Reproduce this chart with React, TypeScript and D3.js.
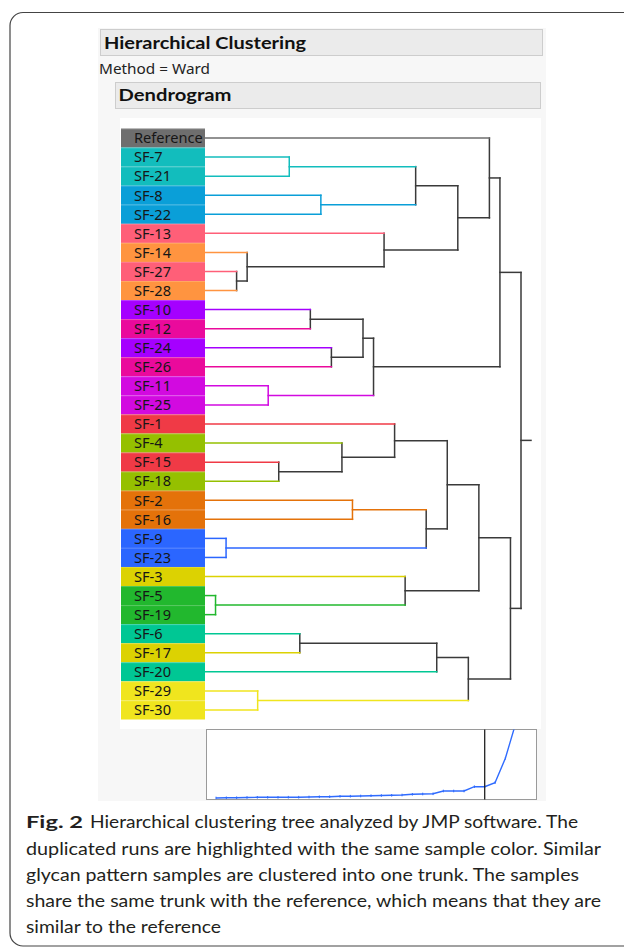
import React from 'react';
import * as d3 from 'd3';

// ---------- data ----------
const leafNames = [
  'Reference', 'SF-7', 'SF-21', 'SF-8', 'SF-22', 'SF-13', 'SF-14', 'SF-27', 'SF-28',
  'SF-10', 'SF-12', 'SF-24', 'SF-26', 'SF-11', 'SF-25', 'SF-1', 'SF-4', 'SF-15', 'SF-18',
  'SF-2', 'SF-16', 'SF-9', 'SF-23', 'SF-3', 'SF-5', 'SF-19', 'SF-6', 'SF-17', 'SF-20',
  'SF-29', 'SF-30',
];

const leafColors = [
  '#6e6e6e', '#12bdbd', '#12bdbd', '#0a9fd8', '#0a9fd8', '#ff5f78', '#ff9440', '#ff5f78', '#ff9440',
  '#a500ff', '#ea0a9c', '#a500ff', '#ea0a9c', '#d20ae0', '#d20ae0', '#f03a46', '#95c000', '#f03a46', '#95c000',
  '#e4720a', '#e4720a', '#2b66ff', '#2b66ff', '#dcd202', '#22b82e', '#22b82e', '#00c794', '#dcd202', '#00c794',
  '#f0e51e', '#f0e51e',
];

// merge order (step k creates cluster "C{k}"), first member drawn on top
const mergePairs: [string, string][] = [
  ['SF-5', 'SF-19'],    // 1
  ['SF-9', 'SF-23'],    // 2
  ['SF-27', 'SF-28'],   // 3
  ['SF-14', 'C3'],      // 4
  ['SF-29', 'SF-30'],   // 5
  ['SF-11', 'SF-25'],   // 6
  ['SF-15', 'SF-18'],   // 7
  ['SF-7', 'SF-21'],    // 8
  ['SF-6', 'SF-17'],    // 9
  ['SF-10', 'SF-12'],   // 10
  ['SF-8', 'SF-22'],    // 11
  ['SF-24', 'SF-26'],   // 12
  ['SF-4', 'C7'],       // 13
  ['SF-2', 'SF-16'],    // 14
  ['C10', 'C12'],       // 15
  ['C15', 'C6'],        // 16
  ['SF-13', 'C4'],      // 17
  ['SF-1', 'C13'],      // 18
  ['SF-3', 'C1'],       // 19
  ['C8', 'C11'],        // 20
  ['C14', 'C2'],        // 21
  ['C9', 'SF-20'],      // 22
  ['C18', 'C21'],       // 23
  ['C20', 'C17'],       // 24
  ['C22', 'C5'],        // 25
  ['C23', 'C19'],       // 26
  ['Reference', 'C24'], // 27
  ['C27', 'C16'],       // 28
  ['C26', 'C25'],       // 29
  ['C28', 'C29'],       // 30
];

// scree plot: joining distances in merge order
const screeDistances = [
  1.3, 1.5, 1.6, 1.8, 2.0, 2.0, 2.0, 2.1, 2.1, 2.3, 2.5, 2.6, 3.0, 3.1, 3.3,
  3.6, 3.8, 4.0, 4.3, 5.0, 5.3, 5.5, 8.3, 8.3, 8.3, 12.6, 12.6, 16.6, 41, 76,
];
const screeCutIndex = 26;

const captionFirst = 'Hierarchical clustering tree analyzed by JMP software. The';
const captionLines = [
  'duplicated runs are highlighted with the same sample color. Similar',
  'glycan pattern samples are clustered into one trunk. The samples',
  'share the same trunk with the reference, which means that they are',
  'similar to the reference',
];
const captionWidths = [575, 553, 575, 195];

// ---------- tree ----------
type TNode = { name: string; step: number; color?: string | null; children?: TNode[] };

function buildTree(): TNode {
  const nodes: Record<string, TNode> = {};
  leafNames.forEach((n, i) => { nodes[n] = { name: n, step: 0, color: leafColors[i] }; });
  mergePairs.forEach(([a, b], i) => {
    const name = 'C' + (i + 1);
    nodes[name] = { name, step: i + 1, children: [nodes[a], nodes[b]] };
  });
  return nodes['C' + mergePairs.length];
}

const BLACK = '#3a3a3a';

export default function App() {
  const root = d3.hierarchy<TNode>(buildTree());
  const leaves = root.leaves();

  const yBand = d3.scaleBand<string>()
    .domain(leaves.map((l) => l.data.name))
    .range([128.5, 719.5])
    .padding(0);
  const bw = yBand.bandwidth();

  const xStep = d3.scaleLinear().domain([0, mergePairs.length]).range([205, 521]);

  const yPos = new Map<any, number>();
  const colorOf = new Map<any, string | null>();
  root.eachAfter((n: any) => {
    if (!n.children) {
      yPos.set(n, (yBand(n.data.name) as number) + bw / 2);
      colorOf.set(n, n.data.color);
    } else {
      yPos.set(n, d3.mean(n.children, (c: any) => yPos.get(c)) as number);
      const cs = n.children.map((c: any) => colorOf.get(c));
      colorOf.set(n, cs.every((c: any) => c && c === cs[0]) ? cs[0] : null);
    }
  });

  const segs: { x1: number; y1: number; x2: number; y2: number; c: string }[] = [];
  root.each((n: any) => {
    const c = colorOf.get(n) || BLACK;
    if (n.parent) {
      segs.push({ x1: xStep(n.data.step), y1: yPos.get(n)!, x2: xStep(n.parent.data.step), y2: yPos.get(n)!, c });
    }
    if (n.children) {
      segs.push({
        x1: xStep(n.data.step), y1: yPos.get(n.children[0])!,
        x2: xStep(n.data.step), y2: yPos.get(n.children[1])!, c,
      });
    }
  });
  // root stub
  segs.push({ x1: xStep(mergePairs.length), y1: yPos.get(root)!, x2: xStep(mergePairs.length + 0.95), y2: yPos.get(root)!, c: BLACK });

  // scree plot scales
  const sx = d3.scaleLinear().domain([0, screeDistances.length - 1]).range([216, 515.7]);
  const sy = d3.scaleLinear().domain([0, 70]).range([799.3, 729.3]);
  const screeLine = d3.line<number>().x((_, i) => sx(i)).y((d) => sy(d))(screeDistances) || '';

  const uiFont = "'Noto Sans', 'Open Sans', sans-serif";
  const capFont = "Lato, 'Noto Sans', sans-serif";

  return (
    <svg width={624} height={947} style={{ position: 'absolute', left: 0, top: 0, background: '#fff' }}>
      <defs>
        <clipPath id="screeClip">
          <rect x={206.5} y={729.5} width={330} height={70} />
        </clipPath>
      </defs>
      {/* outer rounded frame */}
      <rect x={10} y={12.5} width={700} height={933.5} rx={13} fill="#fff" stroke="#444" strokeWidth={1.2} />

      {/* JMP panel */}
      <rect x={98} y={28} width={448} height={773} fill="#f7f7f7" />
      <rect x={100.5} y={29.5} width={442} height={26} fill="#ebebeb" stroke="#cdcdcd" />
      <text x={104} y={49} fontFamily={capFont} fontWeight={700} fontSize={17.5} fill="#111"
        textLength={202} lengthAdjust="spacingAndGlyphs">Hierarchical Clustering</text>
      <text x={99} y={74} fontFamily={uiFont} fontSize={13.5} fill="#222"
        textLength={111} lengthAdjust="spacingAndGlyphs">Method =  Ward</text>
      <rect x={115.5} y={82.5} width={425} height={26} fill="#ebebeb" stroke="#cdcdcd" />
      <text x={118.5} y={101} fontFamily={capFont} fontWeight={700} fontSize={17.5} fill="#111"
        textLength={113} lengthAdjust="spacingAndGlyphs">Dendrogram</text>

      {/* plot area */}
      <rect x={120} y={118} width={421} height={611} fill="#fff" />

      {/* label cells */}
      {leaves.map((l: any) => (
        <g key={l.data.name}>
          <rect x={121} y={yBand(l.data.name)} width={84} height={bw} fill={l.data.color} />
          <line x1={121} x2={205} y1={(yBand(l.data.name) as number) + 0.5} y2={(yBand(l.data.name) as number) + 0.5}
            stroke="#fff" strokeOpacity={0.18} />
          <text x={134} y={(yBand(l.data.name) as number) + bw / 2 + 5.3} fontFamily={uiFont} fontSize={14.6} fill="#161616">
            {l.data.name}
          </text>
        </g>
      ))}

      {/* dendrogram branches */}
      {segs.map((s, i) => (
        <line key={i} x1={s.x1} y1={s.y1} x2={s.x2} y2={s.y2} stroke={s.c} strokeWidth={1.5} strokeLinecap="square" />
      ))}

      {/* scree plot */}
      <rect x={206.5} y={729.5} width={330} height={70} fill="#fff" stroke="#9a9a9a" strokeWidth={1} />
      <g clipPath="url(#screeClip)">
        <path d={screeLine} fill="none" stroke="#2f6bff" strokeWidth={1.4} />
        {screeDistances.map((d, i) => (
          <line key={i} x1={sx(i)} x2={sx(i)} y1={sy(d) - 1.3} y2={sy(d) + 1.3} stroke="#2f6bff" strokeWidth={1} />
        ))}
      </g>
      <line x1={sx(screeCutIndex)} x2={sx(screeCutIndex)} y1={729.5} y2={799.5} stroke="#222" strokeWidth={1.3} />

      {/* caption */}
      <text x={26} y={828} fontFamily={capFont} fontWeight={700} fontSize={17.5} fill="#231f20"
        textLength={57} lengthAdjust="spacingAndGlyphs">Fig. 2</text>
      <text x={90} y={828} fontFamily={capFont} fontWeight={400} fontSize={17.5} fill="#231f20"
        textLength={488} lengthAdjust="spacingAndGlyphs">{captionFirst}</text>
      {captionLines.map((t, i) => (
        <text key={i} x={26} y={854.5 + i * 26.3} fontFamily={capFont} fontWeight={400} fontSize={17.5} fill="#231f20"
          textLength={captionWidths[i]} lengthAdjust="spacingAndGlyphs">{t}</text>
      ))}
    </svg>
  );
}
